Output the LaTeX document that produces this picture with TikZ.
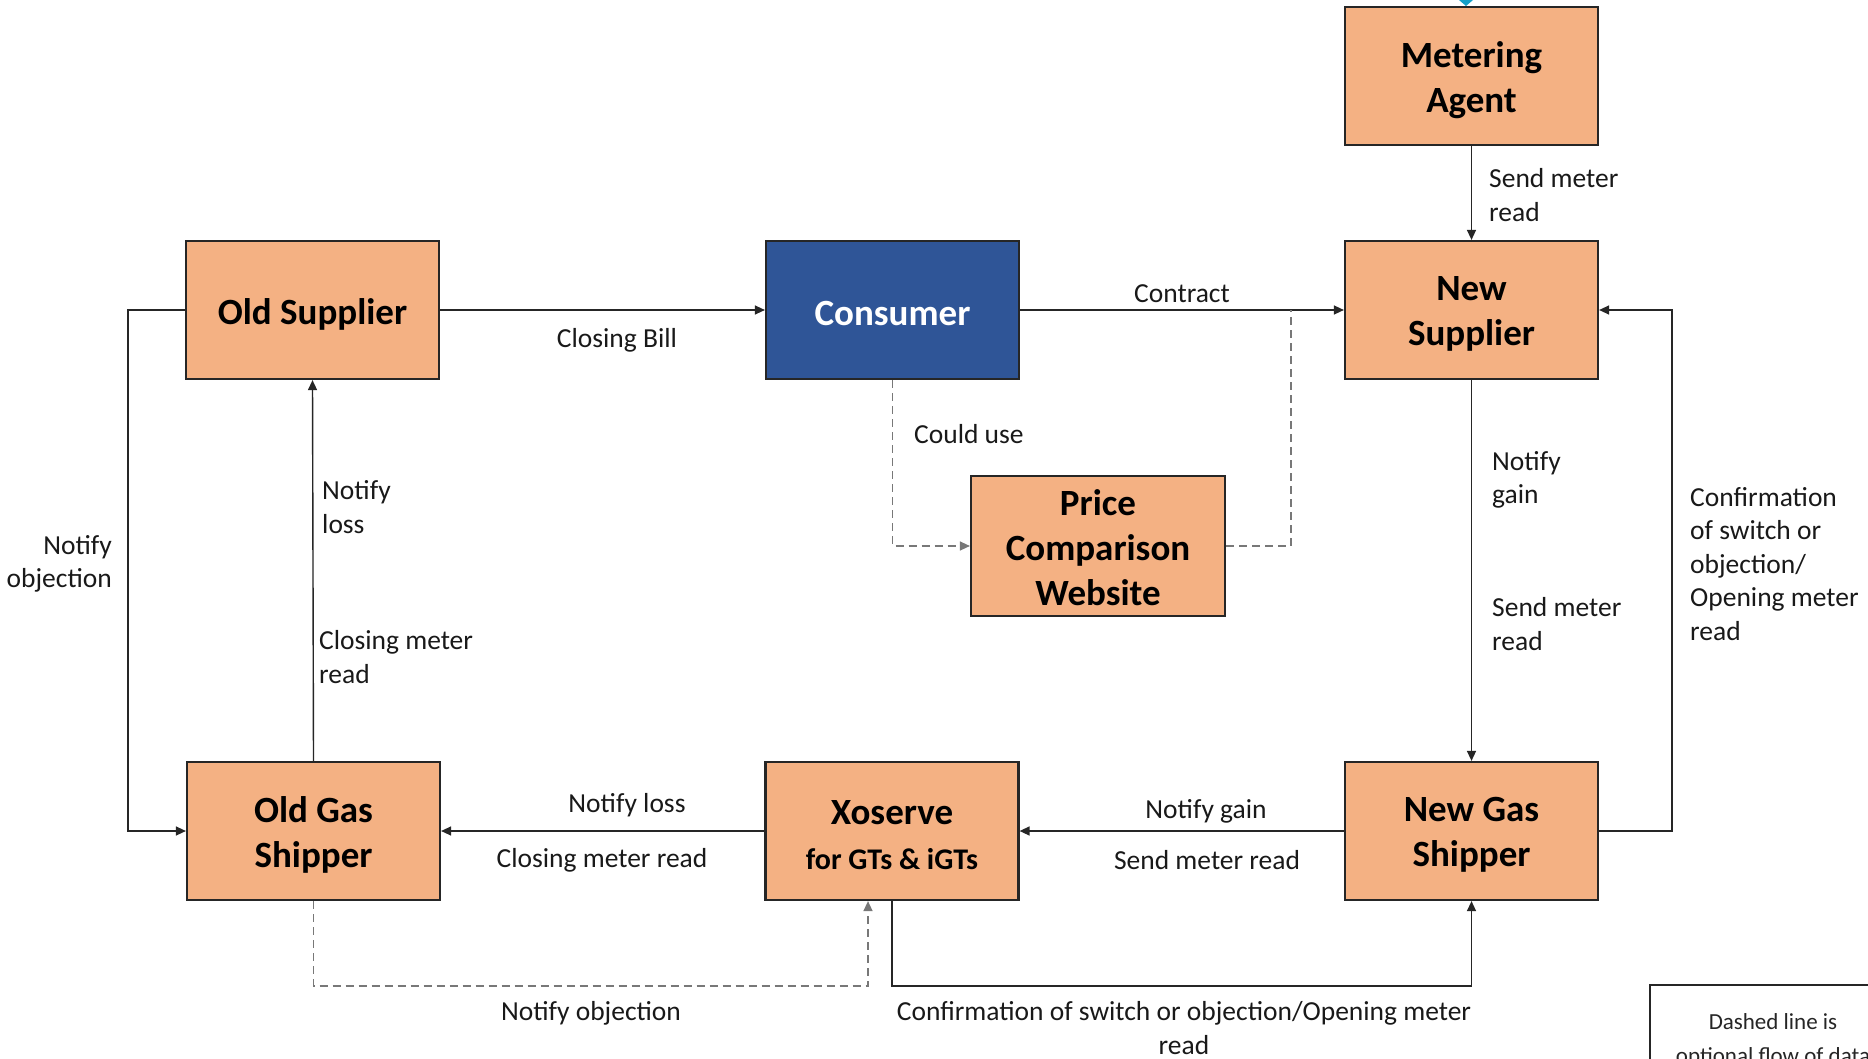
\documentclass[tikz,border=0pt]{standalone}
\usepackage{fontspec}
\setmainfont{Carlito}
\usetikzlibrary{arrows.meta,calc}
\definecolor{boxfill}{RGB}{244,177,131}
\definecolor{consblue}{RGB}{47,85,151}
\definecolor{edgegray}{RGB}{38,38,38}
\definecolor{dashgray}{RGB}{120,120,120}
\definecolor{cyanmark}{RGB}{20,160,200}
\begin{document}
\begin{tikzpicture}[x=1pt,y=-1pt,
 box/.style={draw=edgegray, line width=2.2pt, fill=boxfill, minimum width=253pt, minimum height=138pt, inner sep=0pt},
 boxtext/.style={align=center, font=\fontsize{37}{45}\selectfont\bfseries, inner sep=0pt, yshift=-4pt},
 cons/.style={box, fill=consblue},
 conn/.style={draw=black!85, line width=1.4pt, -{Triangle[length=10pt,width=9pt]}},
 opt/.style={draw=dashgray, line width=1.4pt, dash pattern=on 8pt off 5pt},
 optarrow/.style={opt, -{Triangle[length=10pt,width=9pt]}},
 lbl/.style={font=\fontsize{27.5}{33.5}\selectfont, inner sep=0pt, text=black!90, yshift=-2pt},
]
\useasboundingbox (0,0) rectangle (1868,1059);
\clip (0,0) rectangle (1868,1059);
\fill[white] (0,0) rectangle (1868,1059);

% cyan marker at top
\fill[cyanmark] (1466,-7) -- (1473,0) -- (1466,6) -- (1459,0) -- cycle;

% boxes
\node[box, label={[boxtext]center:{Metering\\Agent}}] (ma) at (1471.5,76) {};
\node[box, label={[boxtext]center:{Old Supplier}}] (os) at (312.5,310) {};
\node[cons, label={[boxtext, text=white]center:{Consumer}}] (con) at (892.5,310) {};
\node[box, label={[boxtext]center:{New\\Supplier}}] (ns) at (1471.5,310) {};
\node[box, minimum width=254pt, minimum height=140pt, label={[boxtext, yshift=2pt]center:{Price\\Comparison\\Website}}] (pcw) at (1098,546) {};
\node[box, label={[boxtext]center:{Old Gas\\Shipper}}] (ogs) at (313.5,831) {};
\node[box, label={[boxtext]center:{Xoserve\\{\fontsize{30}{36}\selectfont for GTs \& iGTs}}}] (xo) at (892,831) {};
\node[box, label={[boxtext]center:{New Gas\\Shipper}}] (ngs) at (1471.5,831) {};

% solid connectors
\draw[conn] (ma.south) -- (ns.north);
\draw[conn] (os.east) -- (con.west);
\draw[conn] (con.east) -- (ns.west);
\draw[conn] (ns.south) -- (ngs.north);
\draw[conn] (ngs.west) -- (xo.east);
\draw[conn] (xo.west) -- (ogs.east);
\draw[conn] (ogs.north) -- (os.south);
\draw[conn] (os.west) -- ++(-57,0) |- (ogs.west);
\draw[conn] (ngs.east) -- ++(73,0) |- (ns.east);
\draw[conn] (xo.south) -- ++(0,85) -| (ngs.south);

% dashed (optional) connectors
\coordinate (cj) at (1291,310);
\coordinate (xin) at ([xshift=-24pt]xo.south);
\draw[optarrow] (con.south) |- (pcw.west);
\draw[opt] (pcw.east) -| (cj);
\draw[optarrow] (ogs.south) -- ++(0,85) -| (xin);

% labels
\node[lbl, align=left, anchor=west] (l1) at (1489,193) {Send meter\\read};
\node[lbl] (l2) at (1182,292) {Contract};
\node[lbl] (l3) at (617,338) {Closing Bill};
\node[lbl, anchor=west] (l4) at (914,432) {Could use};
\node[lbl, align=left, anchor=west] (l5) at (322,505) {Notify\\loss};
\node[lbl, align=left, anchor=west] (l6) at (319,655) {Closing meter\\read};
\node[lbl, align=right, anchor=east] (l7) at (112,562) {Notify\\objection};
\node[lbl, align=left, anchor=west] (l8) at (1492,478) {Notify\\gain};
\node[lbl, align=left, anchor=west] (l9) at (1492,622) {Send meter\\read};
\node[lbl, align=left, anchor=west] (l10) at (1690,562) {Confirmation\\of switch or\\objection/\\Opening meter\\read};
\node[lbl] (l11) at (1206,809) {Notify gain};
\node[lbl] (l12) at (1207,858) {Send meter read};
\node[lbl] (l13) at (627,803) {Notify loss};
\node[lbl] (l14) at (602,858) {Closing meter read};
\node[lbl] (l15) at (591,1011) {Notify objection};
\node[lbl, align=center, yshift=2pt] (l16) at (1184,1028) {Confirmation of switch or objection/Opening meter\\read};

% legend
\draw[draw=edgegray, line width=1.6pt] (1650,985) rectangle (1920,1120);
\node[font=\fontsize{23}{34}\selectfont, align=center, inner sep=0pt, text=black!85] (leg) at (1773,1040) {Dashed line is\\optional flow of data};
\end{tikzpicture}
\end{document}
